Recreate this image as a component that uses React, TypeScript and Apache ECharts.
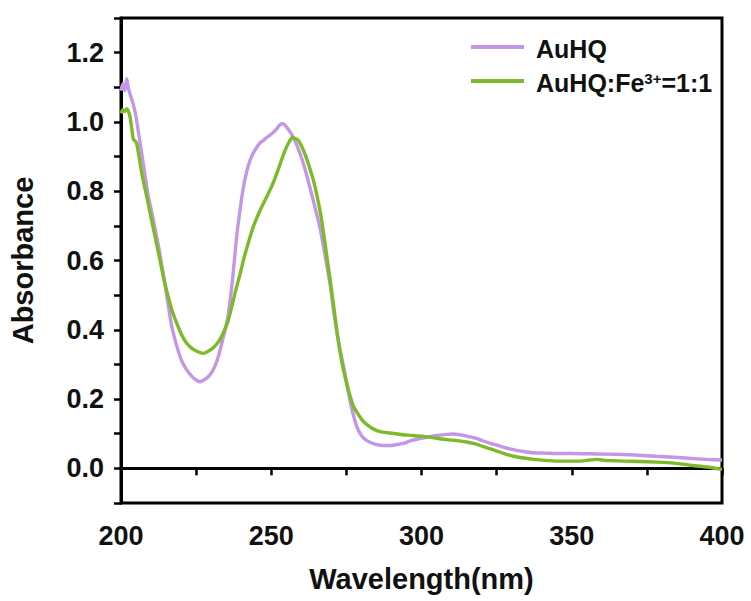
import React, { useEffect, useRef } from "react";
import * as echarts from "echarts";

const seriesNames = ["AuHQ", "AuHQ:Fe3+=1:1"];

const wlAuHQ = [
  200, 200.6, 201.3, 201.9, 202.4, 203.2, 204.1, 205, 205.8, 207.4, 209, 210.7, 212.5, 214.1, 215.2, 216.9,
  218.5, 220.2, 221.8, 223.5, 225, 226.3, 227.8, 229.6, 231, 232.4, 233.8, 235.2, 236.2, 237.4, 238.5, 239.6,
  240.7, 241.8, 242.9, 244, 245.2, 246.3, 247.4, 248.5, 249.6, 250.7, 251.8, 252.7, 253.5, 254.3, 255.1, 256.2,
  257.3, 258.4, 259.6, 261.2, 262.9, 264.5, 266.2, 267.8, 269.5, 271, 272.5, 274.5, 276.2, 278.4, 280, 281.8,
  284.5, 287.3, 290, 292, 294, 296.2, 298.5, 300.7, 303.5, 306.2, 308.5, 310.6, 312.8, 315.1, 318, 320.6,
  323.5, 326.2, 329, 331.7, 334.5, 337.3, 341, 345, 350, 356, 361, 367, 372, 378, 384, 389, 395, 400,
];
const absAuHQ = [
  1.09, 1.11, 1.09, 1.125, 1.1, 1.075, 1.05, 1.015, 0.97, 0.88, 0.79, 0.72, 0.64, 0.56, 0.5, 0.41,
  0.355, 0.31, 0.285, 0.266, 0.255, 0.25, 0.256, 0.27, 0.29, 0.323, 0.37, 0.42, 0.475, 0.57, 0.67, 0.745,
  0.81, 0.855, 0.888, 0.91, 0.927, 0.94, 0.947, 0.955, 0.962, 0.97, 0.98, 0.99, 0.995, 0.993, 0.985, 0.972,
  0.956, 0.935, 0.908, 0.865, 0.81, 0.755, 0.695, 0.62, 0.535, 0.44, 0.36, 0.276, 0.195, 0.122, 0.095, 0.08,
  0.07, 0.066, 0.066, 0.069, 0.072, 0.079, 0.084, 0.088, 0.093, 0.096, 0.098, 0.099, 0.097, 0.093, 0.087, 0.079,
  0.071, 0.064, 0.057, 0.052, 0.048, 0.045, 0.044, 0.043, 0.043, 0.042, 0.041, 0.04, 0.038, 0.035, 0.032, 0.029, 0.026, 0.024,
];

const wlFe = [
  200, 200.6, 201.3, 201.9, 202.5, 203, 203.6, 204.1, 204.7, 205.2, 206, 206.9, 208.3, 209.7, 211.3, 213,
  214.3, 215.7, 217, 218.5, 220.2, 221.8, 223.5, 225.2, 227.4, 229, 230.7, 232.4, 234, 235.6, 236.8, 238.2,
  239.6, 241, 242.5, 244, 246.3, 248.5, 250.2, 251.8, 253.2, 254.6, 255.8, 257, 258, 259, 260.1, 261.2,
  262.6, 264, 265.4, 266.8, 268.2, 269.5, 270.6, 271.8, 273, 274, 275.1, 276.2, 277.3, 279, 280.6, 282.5,
  283.9, 286.2, 289.5, 293.9, 297, 301.7, 305, 308.4, 311.8, 315.1, 317.3, 319.5, 322.3, 325.1, 327.8, 330.6,
  334, 337.3, 341, 345, 349, 352.8, 356, 358.3, 361, 364, 367.2, 372, 378.3, 384, 389.4, 395, 400,
];
const absFe = [
  1.025, 1.035, 1.03, 1.038, 1.03, 1.015, 0.98, 0.95, 0.945, 0.938, 0.9, 0.852, 0.795, 0.737, 0.67, 0.6,
  0.545, 0.496, 0.455, 0.42, 0.385, 0.362, 0.347, 0.338, 0.332, 0.338, 0.348, 0.365, 0.39, 0.425, 0.465, 0.515,
  0.56, 0.61, 0.655, 0.697, 0.745, 0.784, 0.815, 0.85, 0.885, 0.918, 0.94, 0.955, 0.952, 0.947, 0.93, 0.908,
  0.872, 0.832, 0.78, 0.715, 0.63, 0.55, 0.48, 0.4, 0.33, 0.285, 0.245, 0.21, 0.18, 0.155, 0.136, 0.122,
  0.114, 0.106, 0.102, 0.097, 0.095, 0.091, 0.087, 0.083, 0.08, 0.076, 0.072, 0.066, 0.058, 0.05, 0.042, 0.035,
  0.03, 0.026, 0.023, 0.021, 0.021, 0.021, 0.024, 0.026, 0.023, 0.022, 0.021, 0.02, 0.018, 0.015, 0.009, 0.004, -0.003,
];

const xTickLabels = ["200", "250", "300", "350", "400"];
const yTickLabels = ["0.0", "0.2", "0.4", "0.6", "0.8", "1.0", "1.2"];

const FONT = "'Liberation Sans', Arial, Helvetica, sans-serif";
const PURPLE = "#c496e6";
const GREEN = "#7cba2a";

export default function App() {
  const ref = useRef<HTMLDivElement>(null);

  useEffect(() => {
    if (!ref.current) return;
    const chart = echarts.init(ref.current, undefined, { renderer: "svg" });
    const pairs = (xs: number[], ys: number[]) => xs.map((x, i) => [x, ys[i]]);

    chart.setOption({
      animation: false,
      backgroundColor: "#ffffff",
      grid: {
        left: 121,
        right: 29,
        top: 18,
        bottom: 98,
        show: true,
        borderColor: "#000",
        borderWidth: 3,
        containLabel: false,
      },
      legend: {
        data: seriesNames,
        orient: "vertical",
        left: 471,
        top: 32,
        padding: 0,
        itemGap: 4,
        itemWidth: 53,
        itemHeight: 4,
        icon: "rect",
        formatter: (name: string) =>
          name === "AuHQ" ? "{b|AuHQ}" : "{b|AuHQ:Fe}{s|3+}{b|=1:1}",
        textStyle: {
          fontFamily: FONT,
          fontSize: 25,
          fontWeight: "bold",
          color: "#111",
          lineHeight: 26,
          padding: [4, 0, 0, 7],
          rich: {
            b: { fontFamily: FONT, fontSize: 25, fontWeight: "bold", color: "#111", lineHeight: 26 },
            s: { fontFamily: FONT, fontSize: 15, fontWeight: "bold", color: "#111", lineHeight: 26, padding: [0, 0, 10, 0] },
          },
        },
      },
      xAxis: {
        type: "value",
        min: 200,
        max: 400,
        interval: 25,
        name: "Wavelength(nm)",
        nameLocation: "middle",
        nameGap: 61,
        nameTextStyle: { fontFamily: FONT, fontSize: 29, fontWeight: "bold", color: "#111" },
        axisLine: { show: true, lineStyle: { color: "#000", width: 3 } },
        axisTick: { show: true, inside: false, length: 7, lineStyle: { color: "#000", width: 2.5 } },
        axisLabel: {
          margin: 19,
          fontFamily: FONT,
          fontSize: 27,
          fontWeight: "bold",
          color: "#111",
          formatter: (v: number) => {
            const s = String(Math.round(v));
            return xTickLabels.includes(s) ? s : "";
          },
        },
        splitLine: { show: false },
      },
      yAxis: {
        type: "value",
        min: -0.1,
        max: 1.3,
        interval: 0.1,
        name: "Absorbance",
        nameLocation: "middle",
        nameGap: 84,
        nameTextStyle: { fontFamily: FONT, fontSize: 29, fontWeight: "bold", color: "#111" },
        axisLine: { show: true, lineStyle: { color: "#000", width: 3 } },
        axisTick: { show: true, inside: false, length: 7, lineStyle: { color: "#000", width: 2.5 } },
        axisLabel: {
          margin: 17,
          fontFamily: FONT,
          fontSize: 27,
          fontWeight: "bold",
          color: "#111",
          formatter: (v: number) => {
            const s = (Math.round(v * 10) / 10).toFixed(1);
            return yTickLabels.includes(s) ? s : "";
          },
        },
        splitLine: { show: false },
      },
      series: [
        {
          name: seriesNames[0],
          type: "line",
          data: pairs(wlAuHQ, absAuHQ),
          showSymbol: false,
          smooth: 0.2,
          color: PURPLE,
          lineStyle: { color: PURPLE, width: 3.4 },
        },
        {
          name: seriesNames[1],
          type: "line",
          data: pairs(wlFe, absFe),
          showSymbol: false,
          smooth: 0.2,
          color: GREEN,
          lineStyle: { color: GREEN, width: 3.4 },
        },
      ],
    });

    return () => chart.dispose();
  }, []);

  return (
    <div
      ref={ref}
      style={{ position: "fixed", left: 0, top: 0, width: 751, height: 601, background: "#fff" }}
    />
  );
}
